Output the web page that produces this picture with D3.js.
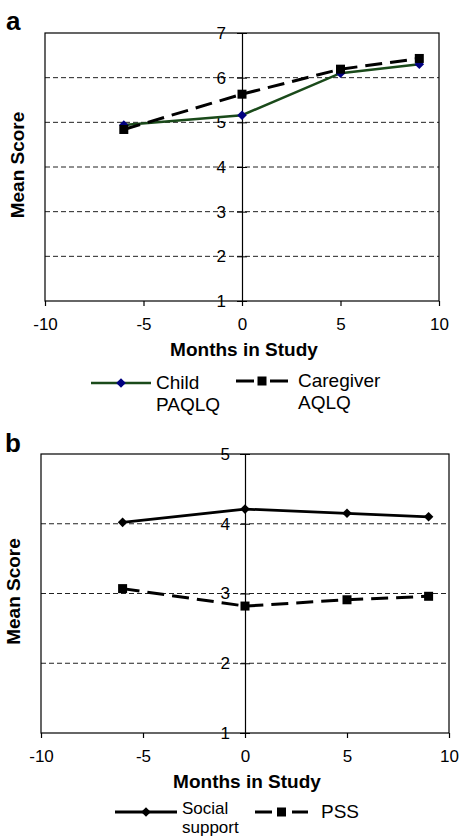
<!DOCTYPE html>
<html><head><meta charset="utf-8">
<script src="https://cdn.jsdelivr.net/npm/d3@7"></script>
<style>body{margin:0;background:#fff}svg{display:block;font-family:"Liberation Sans",Arial,sans-serif}</style>
</head><body>
<svg id="c" width="462" height="839"></svg>
<script>
const months = [-6, 0, 5, 9];
const xTicks = [-10, -5, 0, 5, 10];
const childPAQLQ = [4.94, 5.16, 6.10, 6.30];
const caregiverAQLQ = [4.84, 5.63, 6.19, 6.43];
const yTicksA = [1, 2, 3, 4, 5, 6, 7];
const socialSupport = [4.02, 4.21, 4.15, 4.10];
const pss = [3.07, 2.82, 2.91, 2.96];
const yTicksB = [1, 2, 3, 4, 5];

const svg = d3.select("#c");
const fmt = d => String(d);

function panel(o) {
  const g = svg.append("g");
  const x = d3.scaleLinear().domain([-10, 10]).range([o.left, o.right]);
  const y = d3.scaleLinear().domain(o.yDomain).range([o.bottom, o.top]);
  g.selectAll(".grid").data(o.yTicks.filter(v => v !== o.yDomain[0] && v !== o.yDomain[1]))
    .enter().append("line")
    .attr("x1", o.left).attr("x2", o.right)
    .attr("y1", d => y(d)).attr("y2", d => y(d))
    .attr("stroke", "#222").attr("stroke-width", 1).attr("stroke-dasharray", "5,3");
  g.append("rect").attr("x", o.left).attr("y", o.top)
    .attr("width", o.right - o.left).attr("height", o.bottom - o.top)
    .attr("fill", "none").attr("stroke", "#000").attr("stroke-width", 1.2);
  const yAxis = d3.axisLeft(y).tickValues(o.yTicks).tickSize(5).tickPadding(o.yPad).tickFormat(fmt);
  const ya = g.append("g").attr("transform", `translate(${x(0)},0)`).call(yAxis);
  ya.select(".domain").attr("stroke", "#000").attr("stroke-width", 1.2);
  ya.selectAll(".tick line").attr("x1", 5).attr("stroke-width", 1);
  ya.selectAll("text").attr("font-size", 17).attr("fill", "#000").attr("font-family", "Liberation Sans, Arial");
  const xAxis = d3.axisBottom(x).tickValues(xTicks).tickSize(5).tickPadding(12).tickFormat(fmt);
  const xa = g.append("g").attr("transform", `translate(0,${o.bottom})`).call(xAxis);
  xa.select(".domain").remove();
  xa.selectAll("line").attr("stroke-width", 1.2);
  xa.selectAll("text").attr("font-size", 17).attr("fill", "#000").attr("font-family", "Liberation Sans, Arial");
  g.append("text").attr("x", (o.left + o.right) / 2 + 2).attr("y", o.xLabelY).attr("text-anchor", "middle")
    .attr("font-size", 19).attr("font-weight", "bold").text("Months in Study");
  g.append("text").attr("transform", `translate(${o.yLabelX},${(o.top + o.bottom) / 2 - 2}) rotate(-90)`)
    .attr("text-anchor", "middle").attr("font-size", 19).attr("font-weight", "bold").text("Mean Score");
  g.append("text").attr("x", o.letterX).attr("y", o.letterY).attr("font-size", 26).attr("font-weight", "bold").text(o.letter);

  const line = d3.line().x((d, i) => x(months[i])).y(d => y(d));
  o.series.forEach(s => {
    g.append("path").datum(s.values).attr("d", line).attr("fill", "none")
      .attr("stroke", s.color).attr("stroke-width", s.width).attr("stroke-dasharray", s.dash || null);
    s.values.forEach((v, i) => drawMarker(g, s, x(months[i]), y(v)));
  });
  o.series.forEach(s => {
    const L = s.legend;
    g.append("line").attr("x1", L.x1).attr("x2", L.x2).attr("y1", L.y).attr("y2", L.y)
      .attr("stroke", s.color).attr("stroke-width", s.width).attr("stroke-dasharray", s.legendDash || null);
    drawMarker(g, s, (L.x1 + L.x2) / 2, L.y);
    const t = g.append("text").attr("x", L.tx).attr("y", L.ty).attr("font-size", L.fs);
    L.lines.forEach((s2, k) => {
      t.append("tspan").attr("x", L.tx).attr("dy", k === 0 ? 0 : L.lh).text(s2);
    });
  });
}

function drawMarker(g, s, cx, cy) {
  if (s.marker === "diamond") {
    const r = 4.8;
    g.append("path").attr("d", `M${cx},${cy - r}L${cx + r},${cy}L${cx},${cy + r}L${cx - r},${cy}Z`).attr("fill", s.markerColor);
  } else {
    const r = 4.5;
    g.append("rect").attr("x", cx - r).attr("y", cy - r).attr("width", 2 * r).attr("height", 2 * r).attr("fill", s.markerColor);
  }
}

panel({
  left: 45, right: 439, top: 33, bottom: 301, yDomain: [1, 7], yTicks: yTicksA, yPad: 11,
  xLabelY: 356, yLabelX: 24, letter: "a", letterX: 6, letterY: 30,
  series: [
    { values: childPAQLQ, color: "#1a4a1a", width: 2.5, marker: "diamond", markerColor: "#000080",
      legend: { x1: 91, x2: 151, y: 383, tx: 156, ty: 389, lh: 22, fs: 19, lines: ["Child", "PAQLQ"] } },
    { values: caregiverAQLQ, color: "#000", width: 3, dash: "17,8", marker: "square", markerColor: "#000", legendDash: "18,16",
      legend: { x1: 236, x2: 288, y: 381, tx: 298, ty: 387, lh: 22, fs: 19, lines: ["Caregiver", "AQLQ"] } }
  ]
});

panel({
  left: 41, right: 449, top: 454, bottom: 733, yDomain: [1, 5], yTicks: yTicksB, yPad: 10,
  xLabelY: 788, yLabelX: 20, letter: "b", letterX: 5, letterY: 452,
  series: [
    { values: socialSupport, color: "#000", width: 2.8, marker: "diamond", markerColor: "#000",
      legend: { x1: 115, x2: 177, y: 812, tx: 182, ty: 814, lh: 19, fs: 17, lines: ["Social", "support"] } },
    { values: pss, color: "#000", width: 3, dash: "17,8", marker: "square", markerColor: "#000", legendDash: "17,20",
      legend: { x1: 255, x2: 308, y: 812, tx: 321, ty: 818, lh: 19, fs: 19, lines: ["PSS"] } }
  ]
});
</script>
</body></html>
